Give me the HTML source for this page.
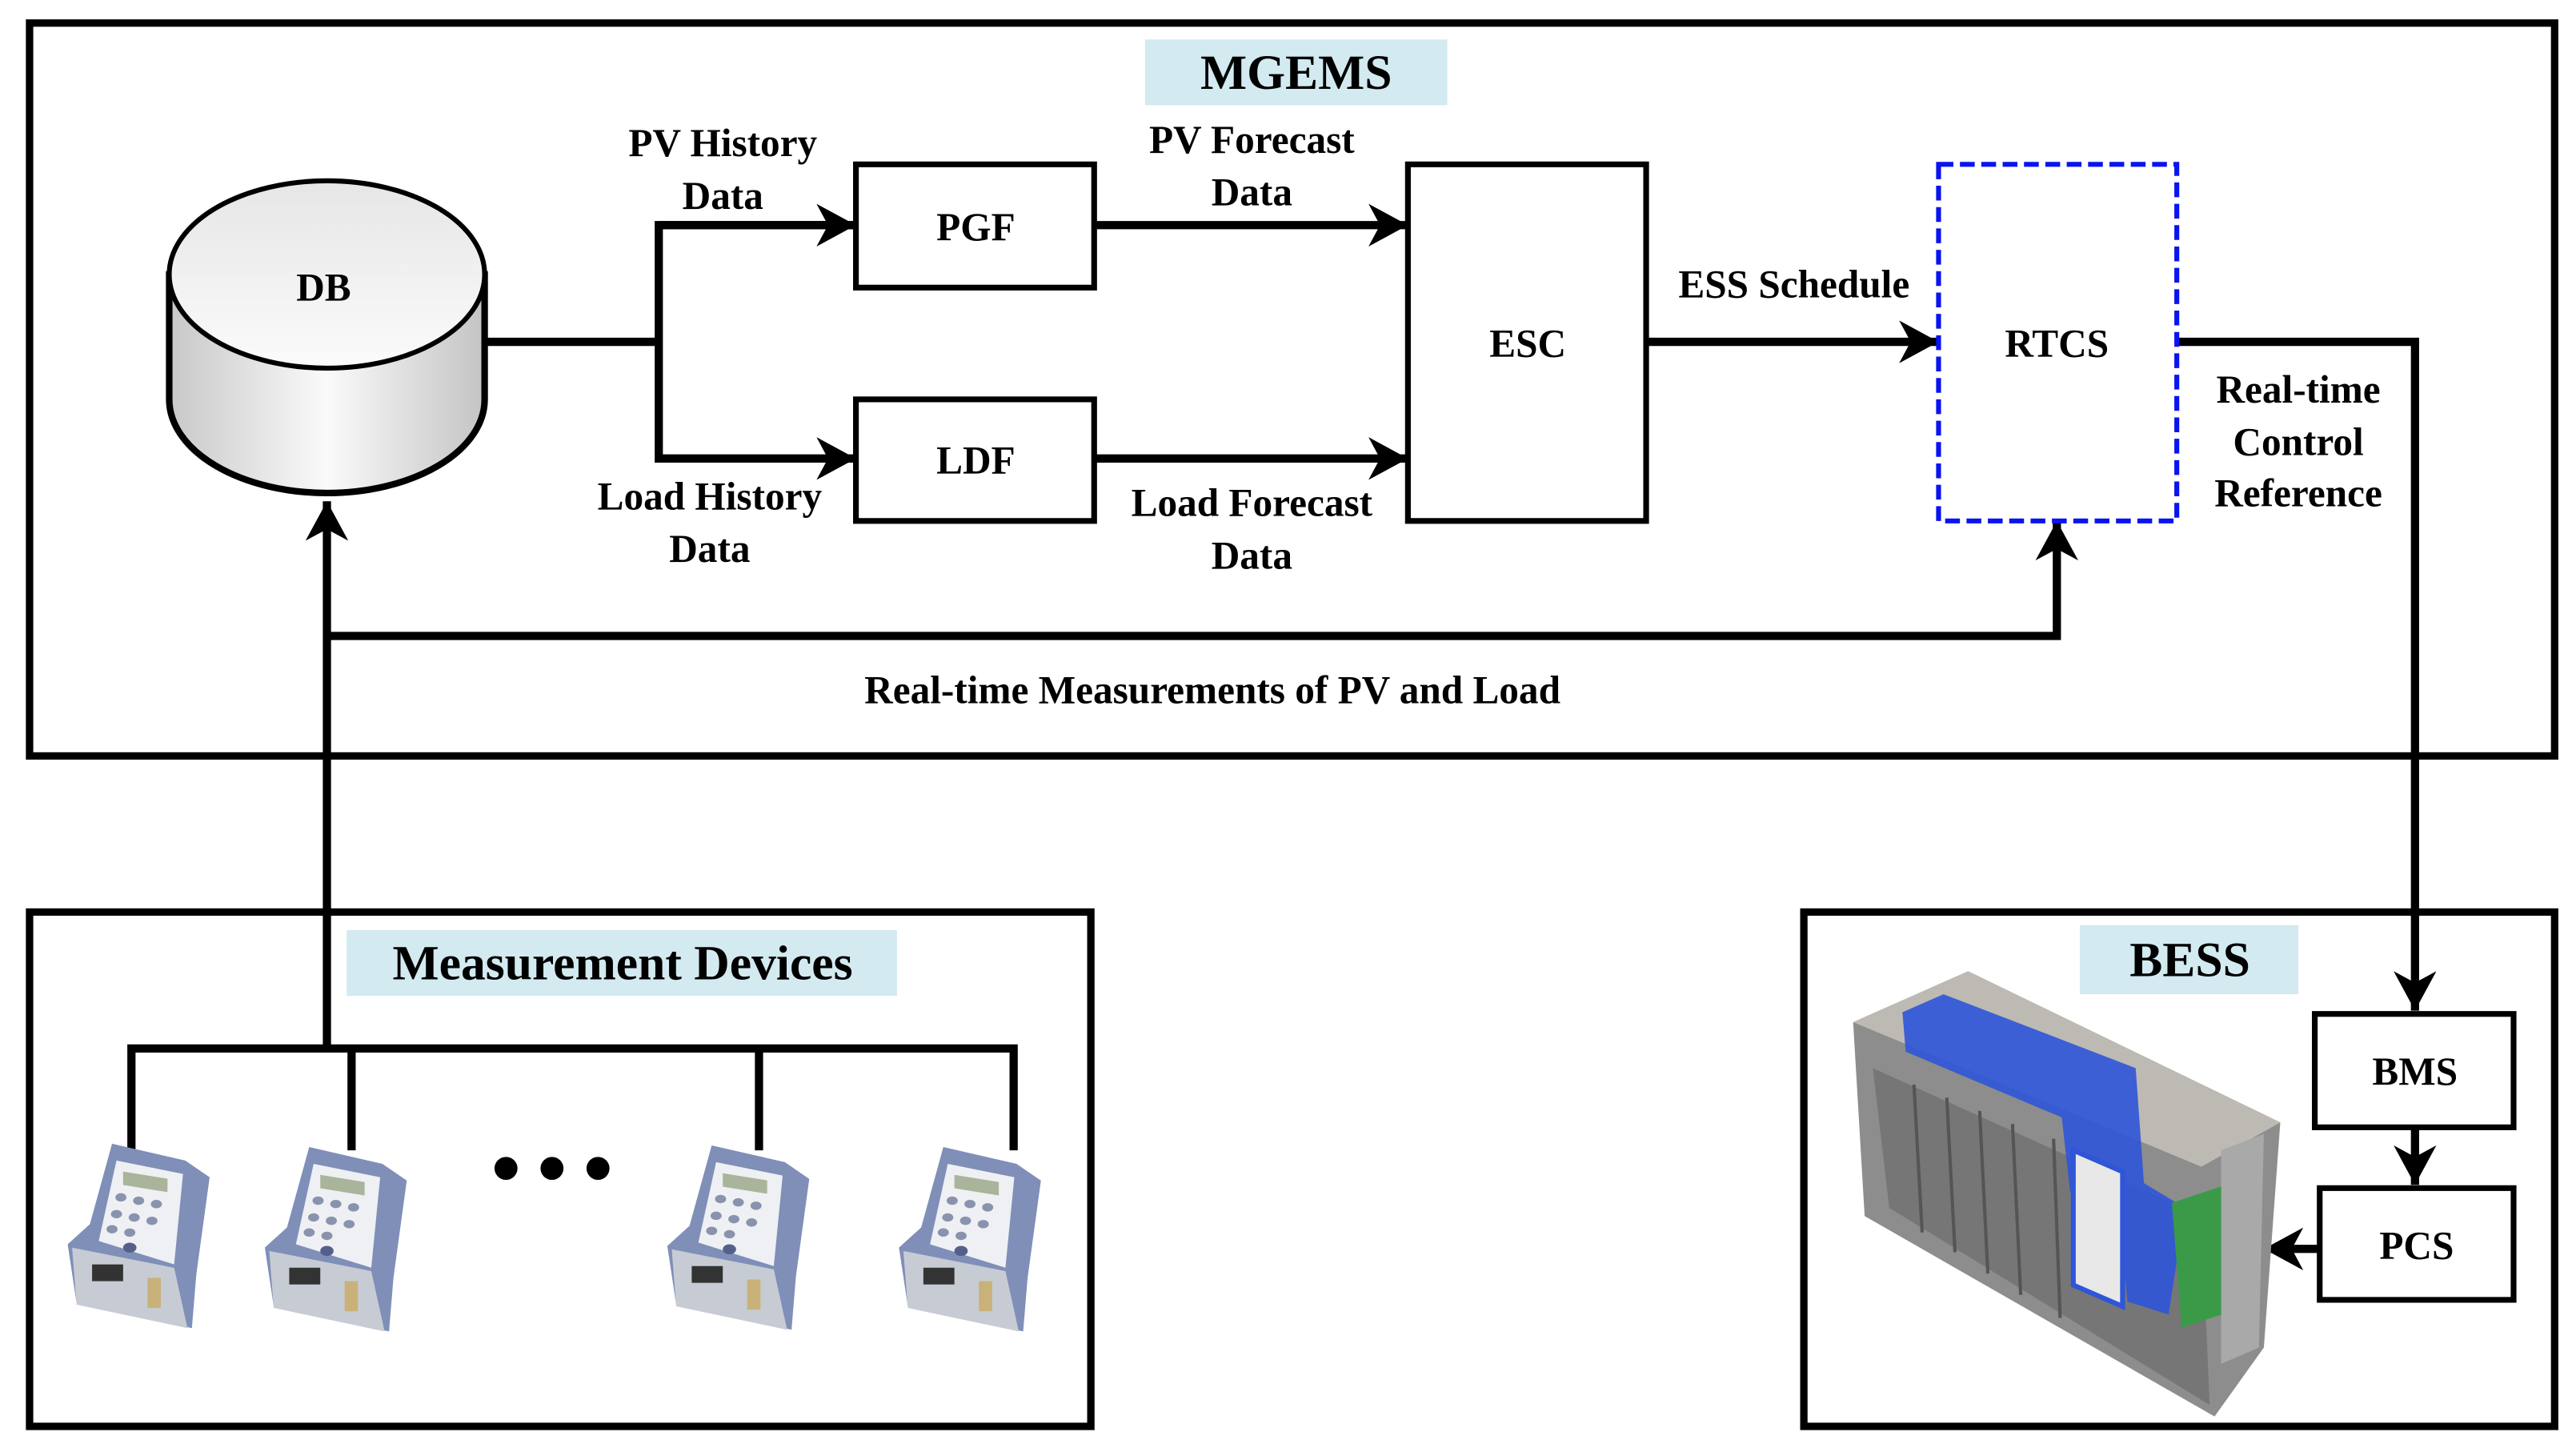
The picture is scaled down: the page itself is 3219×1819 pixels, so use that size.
<!DOCTYPE html>
<html><head><meta charset="utf-8"><style>
html,body{margin:0;padding:0;background:#fff;}
svg{display:block;}
text{font-family:"Liberation Serif","Times New Roman",Times,"DejaVu Serif",serif;font-weight:bold;fill:#000;}
</style></head><body>
<svg width="3219" height="1819" viewBox="0 0 1568 886" xmlns="http://www.w3.org/2000/svg">
<defs>
<marker id="ah" markerUnits="userSpaceOnUse" markerWidth="30" markerHeight="30" refX="24" refY="13" orient="auto">
<path d="M24 13 L0 0 L7 13 L0 26 Z" fill="#000"/>
</marker>
<linearGradient id="cyl" x1="0" x2="1" y1="0" y2="0">
<stop offset="0" stop-color="#c8c8c8"/><stop offset="0.5" stop-color="#fafafa"/><stop offset="1" stop-color="#c4c4c4"/>
</linearGradient>
<linearGradient id="top" x1="0" x2="0" y1="0" y2="1">
<stop offset="0" stop-color="#e6e6e6"/><stop offset="1" stop-color="#fbfbfb"/>
</linearGradient>
<g id="dev">
<path d="M12 0 L45 10 L56 20 L50 78 L48 110 L-4 95 L-8 60 L2 48 Z" fill="#7f8fb8"/>
<path d="M14 10 L44 18 L40 72 L6 58 Z" fill="#eef0f4"/>
<rect x="17" y="13" width="20" height="8" fill="#a9b49a" transform="skewY(12)"/>
<path d="M-6 62 L40 74 L46 110 L-4 96 Z" fill="#c7ccd4"/>
<rect x="3" y="72" width="14" height="10" fill="#333"/>
<circle cx="20" cy="62" r="3" fill="#55608a"/>
<g fill="#8a93ad"><circle cx="16" cy="32" r="2.5"/><circle cx="24" cy="34" r="2.5"/><circle cx="32" cy="36" r="2.5"/><circle cx="14" cy="42" r="2.5"/><circle cx="22" cy="44" r="2.5"/><circle cx="30" cy="46" r="2.5"/><circle cx="12" cy="51" r="2.5"/><circle cx="20" cy="53" r="2.5"/></g>
<rect x="28" y="80" width="6" height="18" fill="#c9b27a"/>
</g>
</defs>

<rect x="18" y="14" width="1537" height="446" fill="none" stroke="#000" stroke-width="4.5"/>
<rect x="697" y="24" width="184" height="40" fill="#d2eaf0"/>
<text x="789" y="54" font-size="30" text-anchor="middle">MGEMS</text>

<path d="M103 167 L103 243 A96 57 0 0 0 295 243 L295 167 Z" fill="url(#cyl)" stroke="#000" stroke-width="4"/>
<ellipse cx="199" cy="167" rx="96" ry="57" fill="url(#top)" stroke="#000" stroke-width="3"/>
<text x="197" y="183" font-size="24" text-anchor="middle">DB</text>

<g fill="none" stroke="#000" stroke-width="5">
<path d="M295 208 L401 208"/>
<path d="M521 137 L401 137 L401 279 L521 279" marker-end="url(#ah)"/>
<path d="M401 137 L521 137" marker-end="url(#ah)"/>
<path d="M666 137 L857 137" marker-end="url(#ah)"/>
<path d="M666 279 L857 279" marker-end="url(#ah)"/>
<path d="M1002 208 L1180 208" marker-end="url(#ah)"/>
<path d="M1325 208 L1470 208 L1470 615" marker-end="url(#ah)"/>
<path d="M199 638 L199 305" marker-end="url(#ah)"/>
<path d="M199 387 L1252 387 L1252 317" marker-end="url(#ah)"/>
<path d="M1470 686 L1470 721" marker-end="url(#ah)"/>
<path d="M1412 760 L1378 760" marker-end="url(#ah)"/>
<path d="M80 700 L80 638 L617 638 L617 700"/>
<path d="M214 638 L214 700"/>
<path d="M462 638 L462 700"/>
</g>

<g fill="#fff" stroke="#000" stroke-width="3.5">
<rect x="521" y="100" width="145" height="75"/>
<rect x="521" y="243" width="145" height="74"/>
<rect x="857" y="100" width="145" height="217"/>
</g>
<rect x="1180" y="100" width="145" height="217" fill="none" stroke="#0a14ee" stroke-width="3" stroke-dasharray="9 4"/>
<text x="594" y="146" font-size="24" text-anchor="middle">PGF</text>
<text x="594" y="288" font-size="24" text-anchor="middle">LDF</text>
<text x="930" y="217" font-size="24" text-anchor="middle">ESC</text>
<text x="1252" y="217" font-size="24" text-anchor="middle">RTCS</text>

<g font-size="24" text-anchor="middle">
<text x="440" y="95">PV History</text><text x="440" y="127">Data</text>
<text x="762" y="93">PV Forecast</text><text x="762" y="125">Data</text>
<text x="432" y="310">Load History</text><text x="432" y="342">Data</text>
<text x="762" y="314">Load Forecast</text><text x="762" y="346">Data</text>
<text x="1092" y="181">ESS Schedule</text>
<text x="1399" y="245">Real-time</text><text x="1399" y="277">Control</text><text x="1399" y="308">Reference</text>
<text x="738" y="428">Real-time Measurements of PV and Load</text>
</g>

<rect x="18" y="555" width="646" height="313" fill="none" stroke="#000" stroke-width="4.5"/>
<rect x="211" y="566" width="335" height="40" fill="#d2eaf0"/>
<text x="379" y="596" font-size="30" text-anchor="middle">Measurement Devices</text>
<circle cx="308" cy="711" r="7"/><circle cx="336" cy="711" r="7"/><circle cx="364" cy="711" r="7"/>
<use href="#dev" transform="translate(52 696) scale(1.35 1.02)"/>
<use href="#dev" transform="translate(172 698) scale(1.35 1.02)"/>
<use href="#dev" transform="translate(417 697) scale(1.35 1.02)"/>
<use href="#dev" transform="translate(558 698) scale(1.35 1.02)"/>

<rect x="1098" y="555" width="457" height="313" fill="none" stroke="#000" stroke-width="4.5"/>
<rect x="1266" y="563" width="133" height="42" fill="#d2eaf0"/>
<text x="1333" y="594" font-size="30" text-anchor="middle">BESS</text>
<rect x="1409" y="617" width="121" height="69" fill="#fff" stroke="#000" stroke-width="3.5"/>
<rect x="1412" y="723" width="118" height="68" fill="#fff" stroke="#000" stroke-width="3.5"/>
<text x="1470" y="660" font-size="24" text-anchor="middle">BMS</text>
<text x="1471" y="766" font-size="24" text-anchor="middle">PCS</text>

<path d="M1128 622 L1198 591 L1388 683 L1378 820 L1348 862 L1135 740 Z" fill="#8d8d8d"/>
<path d="M1128 622 L1198 591 L1388 683 L1340 710 Z" fill="#bdbab3"/>
<path d="M1140 650 L1340 740 L1345 855 L1150 735 Z" fill="#767676"/>
<g stroke="#555" stroke-width="2"><path d="M1165 660 L1170 750"/><path d="M1185 668 L1190 762"/><path d="M1205 676 L1210 775"/><path d="M1225 684 L1230 788"/><path d="M1250 693 L1254 802"/></g>
<path d="M1158 616 L1183 605 L1300 650 L1305 720 L1330 735 L1320 800 L1295 792 L1290 740 L1260 725 L1255 680 L1160 640 Z" fill="#2f55d8" opacity="0.9"/>
<path d="M1262 700 L1292 713 L1292 795 L1262 782 Z" fill="#e8e8e8" stroke="#2f55d8" stroke-width="3"/>
<path d="M1322 732 L1352 722 L1358 798 L1328 808 Z" fill="#3a9a48"/>
<path d="M1352 700 L1378 690 L1375 820 L1352 830 Z" fill="#a9a9a9"/>
</svg>
</body></html>
